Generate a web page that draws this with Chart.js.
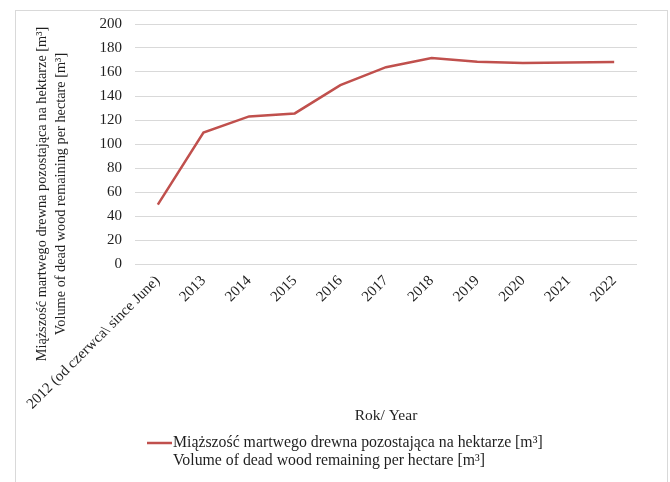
<!DOCTYPE html>
<html>
<head>
<meta charset="utf-8">
<script src="https://cdn.jsdelivr.net/npm/chart.js@4"></script>
<style>
  html, body { margin: 0; padding: 0; background: #fff; }
  #wrap { position: relative; width: 670px; height: 482px; overflow: hidden; }
  #frame { position: absolute; left: 15px; top: 10px; width: 653px; height: 500px;
           border: 1px solid #d9d9d9; box-sizing: border-box; }
  #c { position: absolute; left: 0; top: 0; }
</style>
</head>
<body>
<div id="wrap">
  <div id="frame"></div>
  <canvas id="c" width="670" height="482"></canvas>
</div>
<script>
// Years of observation (first year counted from June)
const years = [
  '2012 (od czerwca\\ since June)', '2013', '2014', '2015', '2016',
  '2017', '2018', '2019', '2020', '2021', '2022'
];

// Dead wood volume remaining per hectare [m³]
const deadWoodVolume = [49.5, 109.5, 123, 125.5, 149, 164, 171.7, 168.6, 167.5, 168, 168.3];

// Value axis range
const yMin = 0;
const yMax = 200;
const yStep = 20;

const seriesLabel = [
  'Miąższość martwego drewna pozostająca na hektarze [m³]',
  'Volume of dead wood remaining per hectare [m³]'
];
const yTitle = [
  'Miąższość martwego drewna pozostająca na hektarze [m³]',
  'Volume of dead wood remaining per hectare [m³]'
];
const xTitle = 'Rok/ Year';

const FONT = '"Liberation Serif", "Times New Roman", serif';
const TEXT = '#1f1f1f';
const LINE = '#C0504D';
const GRID = '#D9D9D9';

// Rotated two-line value-axis title and the two-line legend underneath
const extraText = {
  id: 'extraText',
  afterDraw(chart) {
    const ctx = chart.ctx;
    ctx.save();
    ctx.fillStyle = TEXT;
    ctx.font = '14.3px ' + FONT;
    ctx.textAlign = 'center';
    ctx.textBaseline = 'middle';
    ctx.translate(42, 194);
    ctx.rotate(-Math.PI / 2);
    ctx.fillText(yTitle[0], 0, 0);
    ctx.fillText(yTitle[1], 0, 19);
    ctx.restore();

    ctx.save();
    ctx.strokeStyle = LINE;
    ctx.lineWidth = 2.5;
    ctx.beginPath();
    ctx.moveTo(147, 443);
    ctx.lineTo(172, 443);
    ctx.stroke();
    ctx.fillStyle = TEXT;
    ctx.font = '15.8px ' + FONT;
    ctx.textAlign = 'left';
    ctx.textBaseline = 'middle';
    ctx.fillText(seriesLabel[0], 173, 443);
    ctx.fillText(seriesLabel[1], 173, 461);
    ctx.restore();
  }
};

new Chart(document.getElementById('c'), {
  type: 'line',
  data: {
    labels: years,
    datasets: [{
      label: seriesLabel.join(' '),
      data: deadWoodVolume,
      borderColor: LINE,
      borderWidth: 2.5,
      pointRadius: 0,
      pointHoverRadius: 0,
      tension: 0,
      fill: false
    }]
  },
  options: {
    responsive: false,
    animation: false,
    layout: { padding: { left: 0, right: 33, top: 24, bottom: 57 } },
    plugins: {
      legend: { display: false },
      tooltip: { enabled: false }
    },
    scales: {
      x: {
        offset: true,
        grid: { display: false, drawTicks: false },
        border: { display: false },
        ticks: {
          color: TEXT,
          font: { family: FONT, size: 15 },
          minRotation: 45,
          maxRotation: 45,
          autoSkip: false,
          padding: 8
        },
        title: {
          display: true,
          text: xTitle,
          color: TEXT,
          font: { family: FONT, size: 15.5, lineHeight: 1.2 },
          padding: { top: 0, bottom: 0 }
        },
        afterFit(scale) { scale.height = 161; }
      },
      y: {
        min: yMin,
        max: yMax,
        grid: { color: GRID, lineWidth: 1, drawTicks: false },
        border: { display: false },
        ticks: {
          stepSize: yStep,
          color: TEXT,
          font: { family: FONT, size: 15 },
          padding: 13
        },
        afterFit(scale) { scale.width = 135; }
      }
    }
  },
  plugins: [extraText]
});
</script>
</body>
</html>
